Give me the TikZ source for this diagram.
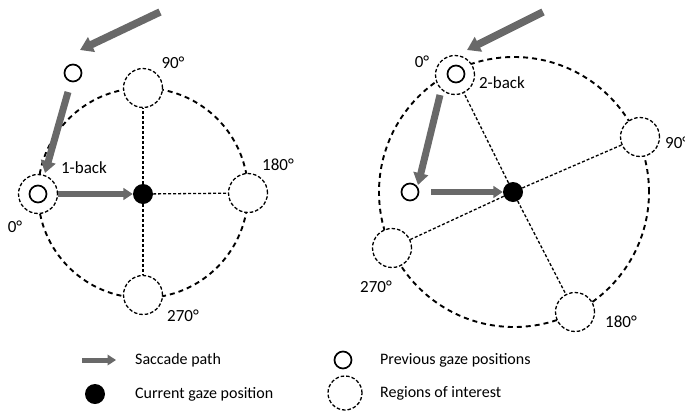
\documentclass[tikz,border=0pt]{standalone}
\usepackage{fontspec}
\setmainfont{Carlito}
\usetikzlibrary{arrows.meta}
\definecolor{arrgray}{RGB}{105,105,105}
\begin{document}
\begin{tikzpicture}[x=1pt,y=-1pt,
  bigring/.style={draw, dash pattern=on 5pt off 4pt, line width=1.9pt},
  roi/.style={circle, draw, fill=white, dash pattern=on 3.5pt off 2pt, line width=1.3pt, minimum size=39pt, inner sep=0pt},
  prev/.style={circle, draw, fill=white, line width=1.7pt, minimum size=17pt, inner sep=0pt},
  cur/.style={circle, fill=black, minimum size=20pt, inner sep=0pt},
  spoke/.style={dash pattern=on 3pt off 2pt, line width=1.3pt},
  sacc/.style={draw=arrgray, line width=#1, -{Triangle[length=0pt 1.7, width=0pt 2.1]}},
  lab/.style={font=\fontsize{17}{19}\selectfont, inner sep=0pt},
  leg/.style={font=\fontsize{16}{19}\selectfont, inner sep=0pt, anchor=west}]
\useasboundingbox (0,0) rectangle (685,418);

% ---------- left diagram ----------
\draw[bigring] (143,193) circle[radius=105pt];
\node[cur] (curL) at (143,194) {};
\node[roi] (L0) at (38,194) {};
\node[roi] (L90) at (143,88) {};
\node[roi] (L180) at (248,193) {};
\node[roi] (L270) at (143,295) {};
\draw[spoke] (curL) -- (L90);
\draw[spoke] (curL) -- (L180);
\draw[spoke] (curL) -- (L270);
\node[prev] (L0p) at (38,194) {};
\node[prev] (pL) at (73,73) {};
\coordinate (aL1s) at (160,12);
\coordinate (aL1e) at (80,50);
\coordinate (aL2s) at (68,92);
\coordinate (aL2e) at (45,173);
\draw[sacc=7.5pt] (aL1s) -- (aL1e);
\draw[sacc=7pt] (aL2s) -- (aL2e);
\draw[sacc=5.5pt] (L0) -- (curL);
\node[lab] (tL90) at (173,63) {90°};
\node[lab] (tL180) at (278,165) {180°};
\node[lab] (tL1b) at (84,168) {1-back};
\node[lab] (tL0) at (15,227) {0°};
\node[lab] (tL270) at (183,316) {270°};

% ---------- right diagram ----------
\draw[bigring] (514,192) circle[radius=135pt];
\node[cur] (curR) at (513,192) {};
\node[roi] (R0) at (455,75) {};
\node[roi] (R90) at (640,137) {};
\node[roi] (R180) at (575,312) {};
\node[roi] (R270) at (392,248) {};
\draw[spoke] (curR) -- (R0);
\draw[spoke] (curR) -- (R90);
\draw[spoke] (curR) -- (R180);
\draw[spoke] (curR) -- (R270);
\node[prev] (R0p) at (456,74) {};
\node[prev] (pR) at (410,192) {};
\coordinate (aR1s) at (543,12);
\coordinate (aR1e) at (467,50);
\coordinate (aR2s) at (440,95);
\coordinate (aR2e) at (418,185);
\draw[sacc=7.5pt] (aR1s) -- (aR1e);
\draw[sacc=7pt] (aR2s) -- (aR2e);
\draw[sacc=5.5pt, shorten <=12pt] (pR) -- (curR);
\node[lab] (tR0) at (422,62) {0°};
\node[lab] (tR2b) at (502,83) {2-back};
\node[lab, anchor=west] (tR90) at (665,143) {90°};
\node[lab] (tR270) at (376,287) {270°};
\node[lab] (tR180) at (621,322) {180°};

% ---------- legend ----------
\coordinate (lgAs) at (82,360);
\coordinate (lgAe) at (116,360);
\draw[sacc=5pt] (lgAs) -- (lgAe);
\node[leg] (lgT1) at (135,360) {Saccade path};
\node[cur] (lgCur) at (95,394) {};
\node[leg] (lgT2) at (135,394) {Current gaze position};
\node[prev] (lgPrev) at (343,360) {};
\node[leg] (lgT3) at (380,360) {Previous gaze positions};
\node[roi, minimum size=34pt] (lgRoi) at (345,393) {};
\node[leg] (lgT4) at (380,393) {Regions of interest};
\end{tikzpicture}
\end{document}
